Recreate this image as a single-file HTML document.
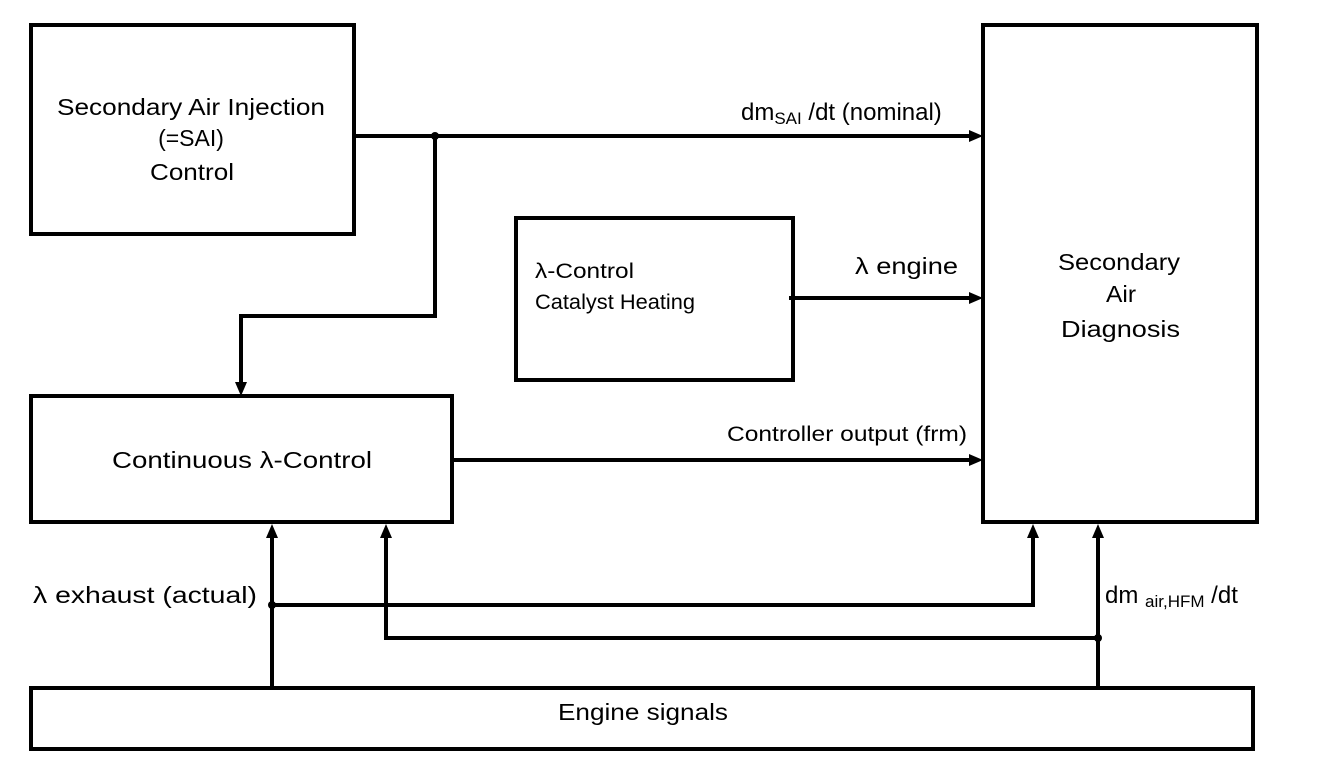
<!DOCTYPE html>
<html><head><style>
html,body{margin:0;padding:0;background:#fff;}
svg{display:block;}
text{font-family:"Liberation Sans",sans-serif;fill:#000;}
</style></head><body>
<svg width="1328" height="780" viewBox="0 0 1328 780" xmlns="http://www.w3.org/2000/svg">
<g fill="none" stroke="#000" stroke-width="4">
<rect x="31" y="25" width="323" height="209"/>
<rect x="516" y="218" width="277" height="162"/>
<rect x="31" y="396" width="421" height="126"/>
<rect x="983" y="25" width="274" height="497"/>
<rect x="31" y="688" width="1222" height="61"/>
<polyline points="354,136 973,136"/>
<polyline points="435,136 435,316 241,316 241,386"/>
<polyline points="789,298 973,298"/>
<polyline points="452,460 973,460"/>
<polyline points="272,688 272,535"/>
<polyline points="272,605 1033,605 1033,535"/>
<polyline points="1098,688 1098,535"/>
<polyline points="1098,638 386,638 386,535"/>
</g>
<g fill="#000">
<circle cx="435" cy="136" r="4"/>
<circle cx="272" cy="605" r="4"/>
<circle cx="1098" cy="638" r="4"/>
<polygon points="983,136 969,130 969,142"/>
<polygon points="983,298 969,292 969,304"/>
<polygon points="983,460 969,454 969,466"/>
<polygon points="241,396 235,382 247,382"/>
<polygon points="272,524 266,538 278,538"/>
<polygon points="386,524 380,538 392,538"/>
<polygon points="1033,524 1027,538 1039,538"/>
<polygon points="1098,524 1092,538 1104,538"/>
</g>
<g font-size="23">
<text x="57" y="115" textLength="268" lengthAdjust="spacingAndGlyphs">Secondary Air Injection</text>
<text x="191" y="146" text-anchor="middle">(=SAI)</text>
<text x="150" y="180" textLength="84" lengthAdjust="spacingAndGlyphs">Control</text>
<text x="741" y="120" font-size="24">dm<tspan font-size="17" dy="4">SAI</tspan><tspan dy="-4"> /dt (nominal)</tspan></text>
<text x="855" y="274" textLength="103" lengthAdjust="spacingAndGlyphs">λ engine</text>
<text x="1058" y="270" textLength="122" lengthAdjust="spacingAndGlyphs">Secondary</text>
<text x="1106" y="302" textLength="30" lengthAdjust="spacingAndGlyphs">Air</text>
<text x="1061" y="337" textLength="119" lengthAdjust="spacingAndGlyphs">Diagnosis</text>
<text x="112" y="468" textLength="260" lengthAdjust="spacingAndGlyphs">Continuous λ-Control</text>
<text x="33" y="603" textLength="224" lengthAdjust="spacingAndGlyphs">λ exhaust (actual)</text>
<text x="1105" y="603" font-size="24">dm <tspan font-size="17" dy="4">air,HFM</tspan><tspan dy="-4"> /dt</tspan></text>
<text x="558" y="720" textLength="170" lengthAdjust="spacingAndGlyphs">Engine signals</text>
</g>
<g font-size="21">
<text x="535" y="278" textLength="99" lengthAdjust="spacingAndGlyphs">λ-Control</text>
<text x="535" y="309" textLength="160" lengthAdjust="spacingAndGlyphs">Catalyst Heating</text>
<text x="727" y="441" textLength="240" lengthAdjust="spacingAndGlyphs">Controller output (frm)</text>
</g>
</svg>
</body></html>
